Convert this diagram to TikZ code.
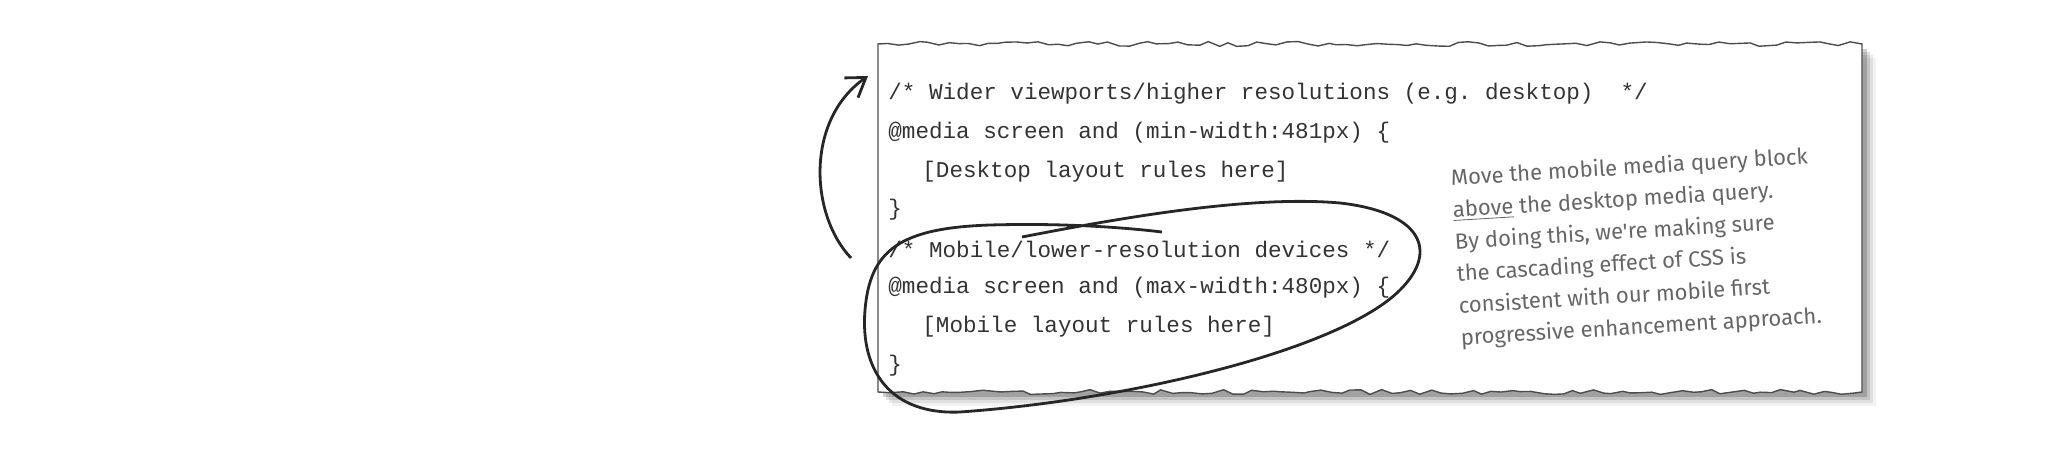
\documentclass[tikz,border=0pt]{standalone}
\usepackage{fontspec}
\setmonofont{Liberation Mono}
\newfontfamily\handfont{Fira Sans}
\usetikzlibrary{decorations.pathmorphing,arrows.meta}
\begin{document}
\begin{tikzpicture}[x=0.5pt,y=-0.5pt,
  code/.style={anchor=west,inner sep=0pt,text=black!80,font=\ttfamily\fontsize{11.3}{13}\selectfont},
  hand/.style={anchor=north west,inner sep=0pt,text=black!60,align=left,font=\handfont\fontsize{11}{16}\selectfont,rotate=3.5},
  torn/.style={decorate,decoration={random steps,segment length=5pt,amplitude=1.2pt}},
  ink/.style={draw=black!85,line width=1.4pt}]
\useasboundingbox (0,0) rectangle (2048,455);
\pgfmathsetseed{7}
% shadow
\foreach \o/\a in {14/0.05,11/0.08,8/0.12,5/0.18}{
  \fill[black,opacity=\a] (878+\o,44+\o) rectangle (1862+\o,392+\o);}
% paper
\filldraw[fill=white,draw=black!70,line width=0.7pt]
  (878,44) decorate[torn]{-- (1862,44)} -- (1862,392) decorate[torn]{-- (878,392)} -- cycle;
% code
\node[code] (l1) at (888,94) {/* Wider viewports/higher resolutions (e.g. desktop)\ \ */};
\node[code] (l2) at (888,133) {@media screen and (min-width:481px) \{};
\node[code] (l3) at (922,172) {[Desktop layout rules here]};
\node[code] (l4) at (888,210) {\}};
\node[code] (l5) at (888,249) {/* Mobile/lower-resolution devices */};
\node[code] (l6) at (888,288) {@media screen and (max-width:480px) \{};
\node[code] (l7) at (922,327) {[Mobile layout rules here]};
\node[code] (l8) at (888,366) {\}};
% handwritten note
\node[hand] (note) at (1450,168) {Move the mobile media query block\\
\underline{above} the desktop media query.\\
By doing this, we're making sure\\
the cascading effect of CSS is\\
consistent with our mobile first\\
progressive enhancement approach.};
% loop
\coordinate (ls) at (1022,237);
\coordinate (le) at (1162,232);
\draw[ink] (ls) .. controls (1120,218) and (1250,195) .. (1340,203)
  .. controls (1420,212) and (1440,250) .. (1400,290)
  .. controls (1340,350) and (1130,400) .. (960,412)
  .. controls (890,415) and (860,370) .. (865,310)
  .. controls (870,250) and (900,228) .. (990,225)
  .. controls (1060,223) and (1120,227) .. (le);
% arrow
\coordinate (as) at (851,258);
\coordinate (ae) at (868,76);
\draw[ink,-{Straight Barb[length=9pt,width=12pt]}] (as) .. controls (810,215) and (805,120) .. (ae);
\end{tikzpicture}
\end{document}
